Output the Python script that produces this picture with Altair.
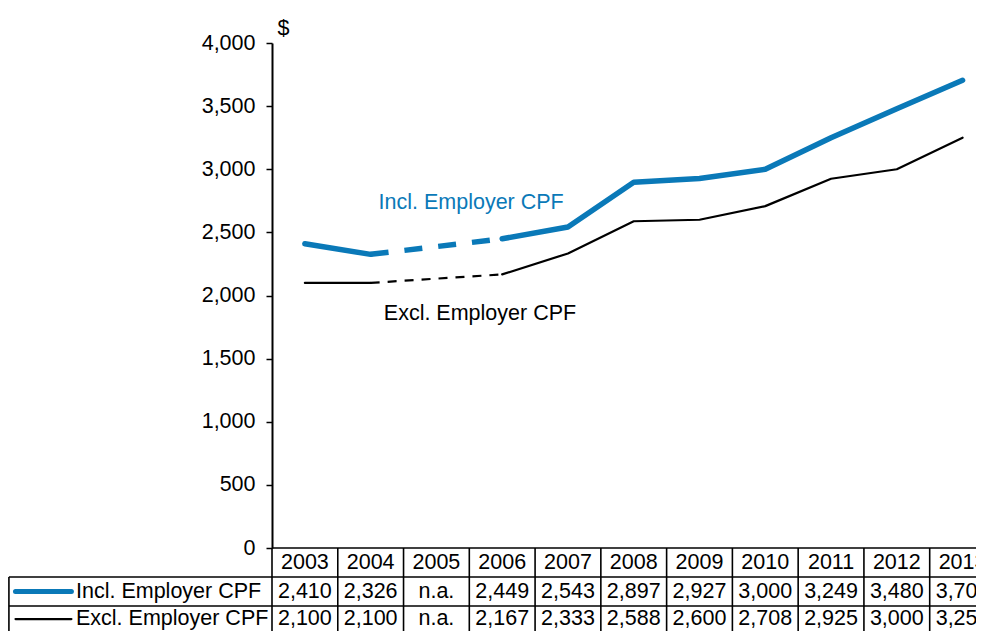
import altair as alt
import pandas as pd

# ---------------- data ----------------
years = [2003, 2004, 2005, 2006, 2007, 2008, 2009, 2010, 2011, 2012, 2013]
incl = [2410, 2326, None, 2449, 2543, 2897, 2927, 3000, 3249, 3480, 3705]
excl = [2100, 2100, None, 2167, 2333, 2588, 2600, 2708, 2925, 3000, 3250]
series_names = ["Incl. Employer CPF", "Excl. Employer CPF"]
series_colors = ["#0A79B8", "#000000"]
y_ticks = [0, 500, 1000, 1500, 2000, 2500, 3000, 3500, 4000]

FONT = "Liberation Sans"
FS = 21.5

# ---------------- build line segments ----------------
def segments(vals, name):
    solid, dashed = [], []
    seg = 0
    last_valid = None
    gap = False
    for yr, v in zip(years, vals):
        if v is None:
            gap = True
            continue
        if gap and last_valid is not None:
            dashed.append({"year": last_valid[0], "value": last_valid[1], "seg": f"{name}-d{seg}", "series": name})
            dashed.append({"year": yr, "value": v, "seg": f"{name}-d{seg}", "series": name})
            seg += 1
            gap = False
        solid.append({"year": yr, "value": v, "seg": f"{name}-s{seg}", "series": name})
        last_valid = (yr, v)
    return solid, dashed

inc_solid, inc_dash = segments(incl, series_names[0])
exc_solid, exc_dash = segments(excl, series_names[1])

# plot area is cut off at the right edge inside the last (2013) column
xscale = alt.Scale(domain=[2002.5, 2013.204], nice=False, zero=False)
yscale = alt.Scale(domain=[0, 4000], nice=False, zero=False)
rowscale = alt.Scale(domain=[0, 3], range=[505, 592], nice=False, zero=False)

yaxis = alt.Axis(
    values=y_ticks, format=",d", grid=False,
    labelFont=FONT, labelFontSize=FS, labelColor="black", labelPadding=11,
    tickColor="black", tickSize=6, tickWidth=1.5,
    domainColor="black", domainWidth=2,
    title="$", titleAngle=0, titleAlign="left", titleBaseline="middle",
    titleX=5, titleY=-15, titleFont=FONT, titleFontSize=FS,
    titleFontWeight="normal", titleColor="black",
)

def line_layer(rows, color, width, dash=None):
    kw = dict(color=color, strokeWidth=width, strokeJoin="round",
              strokeCap="round" if dash is None else "butt")
    if dash is not None:
        kw["strokeDash"] = dash
    return alt.Chart(pd.DataFrame(rows)).mark_line(**kw).encode(
        x=alt.X("year:Q", scale=xscale, axis=None),
        y=alt.Y("value:Q", scale=yscale, axis=yaxis),
        detail="seg:N",
    )

lines = [
    line_layer(inc_solid, series_colors[0], 5.5),
    line_layer(inc_dash, series_colors[0], 5.5, dash=[18, 16]),
    line_layer(exc_solid, series_colors[1], 2.2),
    line_layer(exc_dash, series_colors[1], 2.2, dash=[9, 8]),
]

# in-plot labels
ann = pd.DataFrame({
    "year": [2004.12, 2004.2],
    "value": [2730, 1850],
    "text": series_names,
    "color": series_colors,
})
ann_layer = alt.Chart(ann).mark_text(
    align="left", baseline="middle", font=FONT, fontSize=FS
).encode(
    x=alt.X("year:Q", scale=xscale, axis=None),
    y=alt.Y("value:Q", scale=yscale, axis=yaxis),
    text="text:N",
    color=alt.Color("color:N", scale=None),
)

plot = alt.layer(*lines, ann_layer)

# ---------------- data table ----------------
left_edge = 1998.5
row_pos = [0.5, 1.5, 2.45]  # header, incl row, excl row (last row is cut by the frame)
grid_rows = []
for k in range(len(years) + 1):
    xv = years[0] - 0.5 + k
    grid_rows.append({"x": xv, "x2": xv, "r": 0, "r2": 3})
grid_rows.append({"x": left_edge, "x2": left_edge, "r": 1, "r2": 3})
grid_rows.append({"x": years[0] - 0.5, "x2": years[-1] + 0.5, "r": 0, "r2": 0})
for r in [1, 2, 3]:
    grid_rows.append({"x": left_edge, "x2": years[-1] + 0.5, "r": r, "r2": r})
grid_df = pd.DataFrame(grid_rows)

grid_layer = alt.Chart(grid_df).mark_rule(color="black", strokeWidth=1.6).encode(
    x=alt.X("x:Q", scale=xscale, axis=None),
    x2="x2:Q",
    y=alt.Y("r:Q", scale=rowscale, axis=None),
    y2="r2:Q",
)

def fmt(v):
    return "n.a." if v is None else f"{v:,}"

cells = []
for yr in years:
    cells.append({"x": yr, "r": row_pos[0], "text": str(yr)})
for yr, v in zip(years, incl):
    cells.append({"x": yr, "r": row_pos[1], "text": fmt(v)})
for yr, v in zip(years, excl):
    cells.append({"x": yr, "r": row_pos[2], "text": fmt(v)})
cells_df = pd.DataFrame(cells)

cell_layer = alt.Chart(cells_df).mark_text(
    align="center", baseline="middle", font=FONT, fontSize=FS, color="black"
).encode(
    x=alt.X("x:Q", scale=xscale, axis=None),
    y=alt.Y("r:Q", scale=rowscale, axis=None),
    text="text:N",
)

leg_df = pd.DataFrame({
    "x": [1998.6, 1998.6],
    "x2": [1999.45, 1999.45],
    "tx": [1999.52, 1999.52],
    "r": [row_pos[1], row_pos[2]],
    "text": series_names,
    "color": series_colors,
    "w": [5, 2.2],
})
swatch_layer = alt.Chart(leg_df).mark_rule(strokeCap="round").encode(
    x=alt.X("x:Q", scale=xscale, axis=None),
    x2="x2:Q",
    y=alt.Y("r:Q", scale=rowscale, axis=None),
    color=alt.Color("color:N", scale=None),
    strokeWidth=alt.StrokeWidth("w:Q", scale=None),
)
leg_text = alt.Chart(leg_df).mark_text(
    align="left", baseline="middle", font=FONT, fontSize=FS, color="black"
).encode(
    x=alt.X("tx:Q", scale=xscale, axis=None),
    y=alt.Y("r:Q", scale=rowscale, axis=None),
    text="text:N",
)

table = alt.layer(grid_layer, cell_layer, swatch_layer, leg_text)

chart = alt.layer(plot, table).resolve_scale(
    y="independent"
).properties(
    width=704,
    height=505,
    autosize=alt.AutoSizeParams(type="none"),
    padding={"left": 264, "top": 35, "right": 0, "bottom": 83},
    background="white",
).configure_view(stroke=None)

chart.save("out.html", embed_options={"renderer": "svg", "actions": False})
